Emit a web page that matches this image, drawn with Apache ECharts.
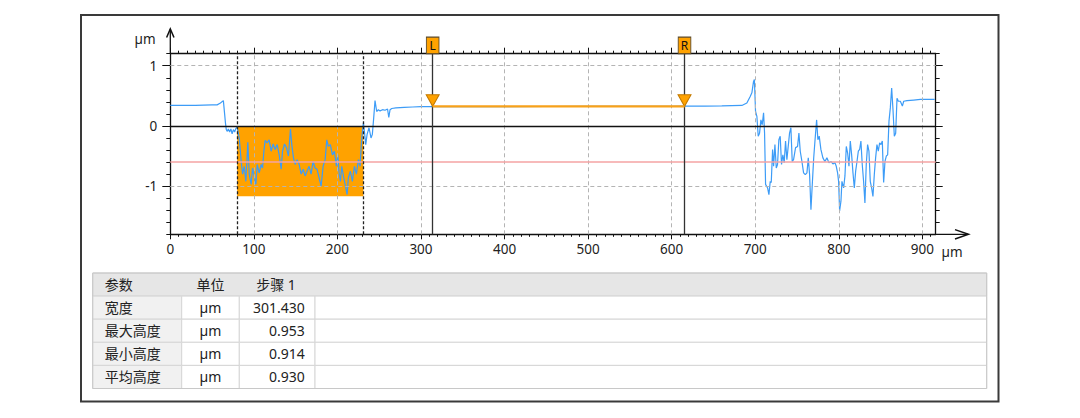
<!DOCTYPE html>
<html><head><meta charset="utf-8">
<script src="https://cdn.jsdelivr.net/npm/echarts@6/dist/echarts.min.js"></script>
<style>html,body{margin:0;padding:0;background:#fff}#c{width:1080px;height:418px}</style>
</head><body><div id="c"></div>
<script>
// ---------- data ----------
const profileX = [0,10,20,30,40,50,56,60,63.5,65,66,67,68,69.5,71,72.5,74,75.5,77,78.5,80,
82.5,85,86.5,88.4,90.4,92.8,94.4,96.8,98.4,100,102.4,104,106.4,108.8,110.4,112,113.5,115.9,118.3,120.7,123.1,125.5,127.9,130.3,132.7,134.3,136.7,139,141.4,143.8,145.4,147.4,149.4,151.8,154.2,156.6,159,161.4,163.7,166.1,168.5,170.9,173.3,175.7,178,180.5,182.9,185.3,187.3,189.2,191.6,194,196.4,198.8,200.4,202,203.6,205.2,207.6,209.2,211.6,213.1,215.5,217.9,220.3,222.7,225.1,227.1,229.1,231.1,232.3,233.9,235.5,237.8,240.2,241.8,243.4,245,247,249,251,254,257,260,261.5,263,265,270,280,290,300,314,
350,400,450,500,550,600,615,640,660,684,
690,694,696,698,699,700.4,702,703.6,705.2,706.8,708.4,710,711.2,712.4,714.8,716.4,718,719.2,720.8,722,723.6,725.2,726.7,728.3,729.9,731.5,733.1,734.7,736.3,737.9,739.5,741.1,742.7,744.3,745.9,748.3,750.7,752.3,753.9,755.9,757.9,759.9,761.9,763.5,765.1,766.7,768.3,770,771.5,773.5,775,776.6,778.6,781,783.4,785.8,788.2,790.6,793,795.4,797,798.6,799.8,801,802.6,803.8,805.8,807.4,809,810.6,812.2,813.8,815.4,817,818.6,820.2,821.8,823.4,825,826.5,828.1,829.7,831.3,832.9,834.5,836.1,837.7,839.3,840.9,842.5,844.1,845.7,847.3,848.9,850.5,852.1,853.7,855.3,856.9,858.5,860.1,861.7,863.3,864.9,866.5,868.1,869.7,871.3,873.7,876.1,877.7,881.6,889.6,897.6,914.8];
const profileY = [0.34,0.34,0.34,0.34,0.345,0.35,0.35,0.38,0.42,0.2,0.05,-0.06,-0.09,-0.05,-0.1,-0.05,-0.13,-0.06,-0.1,-0.04,-0.02,
-0.2,-0.61,-0.8,-0.67,-0.92,-0.27,-0.8,-0.97,-0.7,-0.8,-0.97,-0.64,-0.78,-0.64,-0.7,-0.42,-0.24,-0.28,-0.23,-0.42,-0.3,-0.39,-0.31,-0.48,-0.72,-0.42,-0.3,-0.36,-0.5,-0.05,-0.31,-0.53,-0.64,-0.56,-0.64,-0.8,-0.72,-0.83,-0.75,-0.67,-0.8,-0.59,-0.7,-0.72,-0.86,-1.0,-0.67,-0.56,-0.23,-0.34,-0.31,-0.48,-0.42,-0.67,-0.48,-0.78,-0.92,-0.67,-0.86,-0.97,-1.14,-0.86,-0.75,-0.92,-0.67,-0.8,-0.56,-0.67,-0.2,0.05,-0.09,-0.31,-0.14,-0.03,-0.2,-0.14,0.13,0.42,0.24,0.27,0.25,0.27,0.26,0.28,0.14,0.27,0.29,0.3,0.31,0.315,0.32,0.32,
0.32,0.322,0.323,0.325,0.325,0.327,0.328,0.33,0.332,0.34,
0.38,0.49,0.55,0.74,0.77,0.24,0.16,-0.17,-0.12,0.1,0.02,0.22,-0.12,-0.97,-1.03,-1.14,-0.92,-0.94,-0.39,-0.67,-0.31,-0.7,-0.64,-0.23,-0.17,-0.64,-0.48,-0.61,-0.25,-0.56,-0.34,-0.12,-0.03,-0.59,-0.56,-0.36,-0.34,-0.12,-0.42,-0.59,-0.78,-0.81,-0.78,-0.53,-0.81,-1.39,-0.97,-0.53,-0.25,0.1,-0.23,-0.17,-0.39,-0.53,-0.59,-0.53,-0.61,-0.59,-0.63,-0.61,-0.67,-0.78,-0.92,-1.41,-1.25,-0.92,-1.03,-0.83,-0.34,-0.45,-0.67,-0.25,-0.48,-0.78,-1.03,-0.75,-0.59,-0.42,-0.39,-0.25,-0.64,-0.92,-1.28,-0.64,-0.31,-0.42,-0.92,-1.03,-1.17,-0.81,-0.53,-0.31,-0.42,-0.28,-0.31,-0.25,-0.94,-0.59,-0.5,-0.48,0.08,0.3,0.63,0.27,-0.17,-0.12,0.46,0.41,0.41,0.33,0.41,0.42,0.43,0.44,0.44];

const xRange = [0, 916];
const yRange = [-1.8, 1.2];
const xTickLabels = [0,100,200,300,400,500,600,700,800,900];
const yTickLabels = [-1,0,1];
const xGridLines = [100,200,300,400,500,600,700,800,900];
const yGridLines = [-1,1];
const zeroLineY = 0;
const refLineY = -0.6;
const stepBoxX = [80, 231];
const stepBoxY = [0, -1.17];
const cursorNames = ['L','R'];
const cursorX = [314, 615.4];
const fitLevel = 0.325;

const tableHeader = ['参数','单位','步骤 1'];
const paramNames = ['宽度','最大高度','最小高度','平均高度'];
const paramUnits = ['µm','µm','µm','µm'];
const paramValues = ['301.430','0.953','0.914','0.930'];

// minor tick positions (axis decoration)
const xMinorTicks = []; for (let v = 0; v <= 910; v += 10) xMinorTicks.push(v);
const yMinorTicks = []; for (let i = -9; i <= 6; i++) yMinorTicks.push(+(i*0.2).toFixed(1));

// ---------- layout ----------
const G = {left:170.3, top:53.7, right:1080-935.7, bottom:418-234.3};
const PR = 1080 - G.right, PB = 418 - G.bottom;
const FONT = "'Noto Sans','Noto Sans CJK SC',sans-serif";
const AX = '#111';

function xAx(grid, pos, ticks, len, showLine, labels) {
  return {type:'value', gridIndex:grid, position:pos, min:xRange[0], max:xRange[1],
    axisLine:{show:showLine, onZero:false, lineStyle:{color:AX, width:1.3}},
    axisTick:{show:true, customValues:ticks, length:len, lineStyle:{color:AX, width:1}},
    axisLabel: labels ? {show:true, customValues:labels, margin:8, fontSize:13.5, color:'#222', fontFamily:FONT} : {show:false},
    splitLine:{show:false}};
}
function yAx(grid, pos, ticks, len, showLine, labels) {
  return {type:'value', gridIndex:grid, position:pos, min:yRange[0], max:yRange[1],
    axisLine:{show:showLine, onZero:false, lineStyle:{color:AX, width:1.3}},
    axisTick:{show:true, customValues:ticks, length:len, lineStyle:{color:AX, width:1}},
    axisLabel: labels ? {show:true, customValues:labels, margin:13, fontSize:13.5, color:'#222', fontFamily:FONT} : {show:false},
    splitLine:{show:false}};
}

const profile = profileX.map((x,i)=>[x, profileY[i]]);

// table graphics
const colX = [92.7, 181.7, 239.3, 315, 986.7];
const tTop = 273, rowH = 23.1;
const tableEls = [];
tableEls.push({type:'rect', shape:{x:colX[0], y:tTop, width:colX[4]-colX[0], height:rowH}, style:{fill:'#e6e6e6', stroke:'#cfcfcf', lineWidth:1}});
for (let r = 0; r < paramNames.length; r++) {
  for (let c = 0; c < 4; c++) {
    tableEls.push({type:'rect', shape:{x:colX[c], y:tTop+rowH*(r+1), width:colX[c+1]-colX[c], height:rowH},
      style:{fill: c===0 ? '#f1f1f1' : '#ffffff', stroke:'#d6d6d6', lineWidth:1}});
  }
}
tableEls.push({type:'rect', shape:{x:colX[0], y:tTop, width:colX[4]-colX[0], height:rowH*5}, style:{fill:'none', stroke:'#c8c8c8', lineWidth:1}});
const tStyle = (t, x, y, align) => ({type:'text', x:x, y:y, style:{text:t, fill:'#222', font:"14px "+FONT, align:align, verticalAlign:'middle'}});
tableEls.push(tStyle(tableHeader[0], 104.7, tTop+rowH/2, 'left'));
tableEls.push(tStyle(tableHeader[1], 210.5, tTop+rowH/2, 'center'));
tableEls.push(tStyle(tableHeader[2], 276, tTop+rowH/2, 'center'));
for (let r = 0; r < paramNames.length; r++) {
  const cy = tTop + rowH*(r+1.5);
  tableEls.push(tStyle(paramNames[r], 104.7, cy, 'left'));
  tableEls.push(tStyle(paramUnits[r], 210.5, cy, 'center'));
  tableEls.push(tStyle(paramValues[r], 304.7, cy, 'right'));
}

const chart = echarts.init(document.getElementById('c'), null, {renderer:'svg'});
chart.setOption({
  animation:false,
  backgroundColor:'#fff',
  grid:[
    {left:G.left, right:G.right, top:G.top, bottom:G.bottom},
    {left:G.left, right:G.right, top:G.top, bottom:G.bottom}
  ],
  xAxis:[
    xAx(0,'bottom', xTickLabels, 5, true, xTickLabels),
    xAx(0,'top', xTickLabels, 6, true, null),
    xAx(1,'bottom', xMinorTicks, 2.5, false, null),
    xAx(1,'top', xMinorTicks, 3, false, null)
  ],
  yAxis:[
    yAx(0,'left', yTickLabels, 8, true, yTickLabels),
    yAx(0,'right', yTickLabels, 7, true, null),
    yAx(1,'left', yMinorTicks, 4, false, null),
    yAx(1,'right', yMinorTicks, 4, false, null)
  ],
  graphic:[
    {type:'rect', shape:{x:81, y:15, width:917.5, height:386.5}, style:{fill:'none', stroke:'#3a3a3a', lineWidth:2}},
    {type:'line', shape:{x1:G.left, y1:G.top, x2:G.left, y2:29}, style:{stroke:AX, lineWidth:1.3}},
    {type:'polyline', shape:{points:[[166.6,37.5],[170.3,29],[174,37.5]]}, style:{stroke:AX, lineWidth:1.5, fill:'none'}},
    {type:'line', shape:{x1:PR, y1:PB, x2:968, y2:PB}, style:{stroke:AX, lineWidth:1.3}},
    {type:'polyline', shape:{points:[[955,229.6],[968.5,PB],[955,239]]}, style:{stroke:AX, lineWidth:1.5, fill:'none'}},
    {type:'text', x:145, y:38.5, style:{text:'µm', fill:'#222', font:"13.5px "+FONT, align:'center', verticalAlign:'middle'}},
    {type:'text', x:941.5, y:252, style:{text:'µm', fill:'#222', font:"13.5px "+FONT, align:'left', verticalAlign:'middle'}}
  ].concat(tableEls),
  series:[
    {type:'line', xAxisIndex:0, yAxisIndex:0, data:[], z:1, silent:true,
     markLine:{silent:true, symbol:['none','none'], label:{show:false},
       lineStyle:{color:'#b4b4b4', type:[4,3], width:1},
       data: xGridLines.map(v=>({xAxis:v})).concat(yGridLines.map(v=>({yAxis:v})))}},
    {type:'line', xAxisIndex:0, yAxisIndex:0, data:[], z:2, silent:true,
     markArea:{silent:true, itemStyle:{color:'#ffa200', opacity:1},
       data:[[{xAxis:stepBoxX[0], yAxis:stepBoxY[0]},{xAxis:stepBoxX[1], yAxis:stepBoxY[1]}]]}},
    {type:'line', xAxisIndex:0, yAxisIndex:0, data:[], z:3, silent:true,
     markLine:{silent:true, symbol:['none','none'], label:{show:false},
       data:[
         {yAxis:zeroLineY, lineStyle:{color:'#111', type:'solid', width:1.4}},
         {yAxis:refLineY, lineStyle:{color:'#f5a3a3', type:'solid', width:1.5}},
         {xAxis:stepBoxX[0], lineStyle:{color:'#222', type:[3,2], width:1.3}},
         {xAxis:stepBoxX[1], lineStyle:{color:'#222', type:[3,2], width:1.3}}
       ]}},
    {type:'line', name:'profile', xAxisIndex:0, yAxisIndex:0, data:profile, z:4, showSymbol:false, symbol:'none',
     lineStyle:{color:'#3d9cf7', width:1.2}},
    {type:'line', name:'fit', xAxisIndex:0, yAxisIndex:0, z:5, showSymbol:false, symbol:'none',
     data:[[cursorX[0], fitLevel],[cursorX[1], fitLevel]],
     lineStyle:{color:'#f7a11a', width:2.2},
     markLine:{silent:true, symbol:['none','none'], label:{show:false},
       data: cursorX.map(v=>({xAxis:v, lineStyle:{color:'#333', type:'solid', width:1.3}}))},
     markPoint:{silent:true, data:
       cursorX.map((v,i)=>({name:cursorNames[i], coord:[v, yRange[1]], symbol:'rect', symbolSize:[12.6,16.6], symbolOffset:[0,-8.3],
          itemStyle:{color:'#ffa200', borderColor:'#5c4a2a', borderWidth:1},
          label:{show:true, position:'inside', formatter:'{b}', color:'#111', fontSize:12, fontFamily:FONT}}))
       .concat(cursorX.map(v=>({name:'', coord:[v, fitLevel], symbol:'path://M0,0 L13,0 L6.5,11 Z', symbolSize:[13,11.5], symbolOffset:[0,-5.8],
          itemStyle:{color:'#ffa200', borderColor:'#c47a00', borderWidth:1}, label:{show:false}})))
     }}
  ]
});
</script></body></html>
